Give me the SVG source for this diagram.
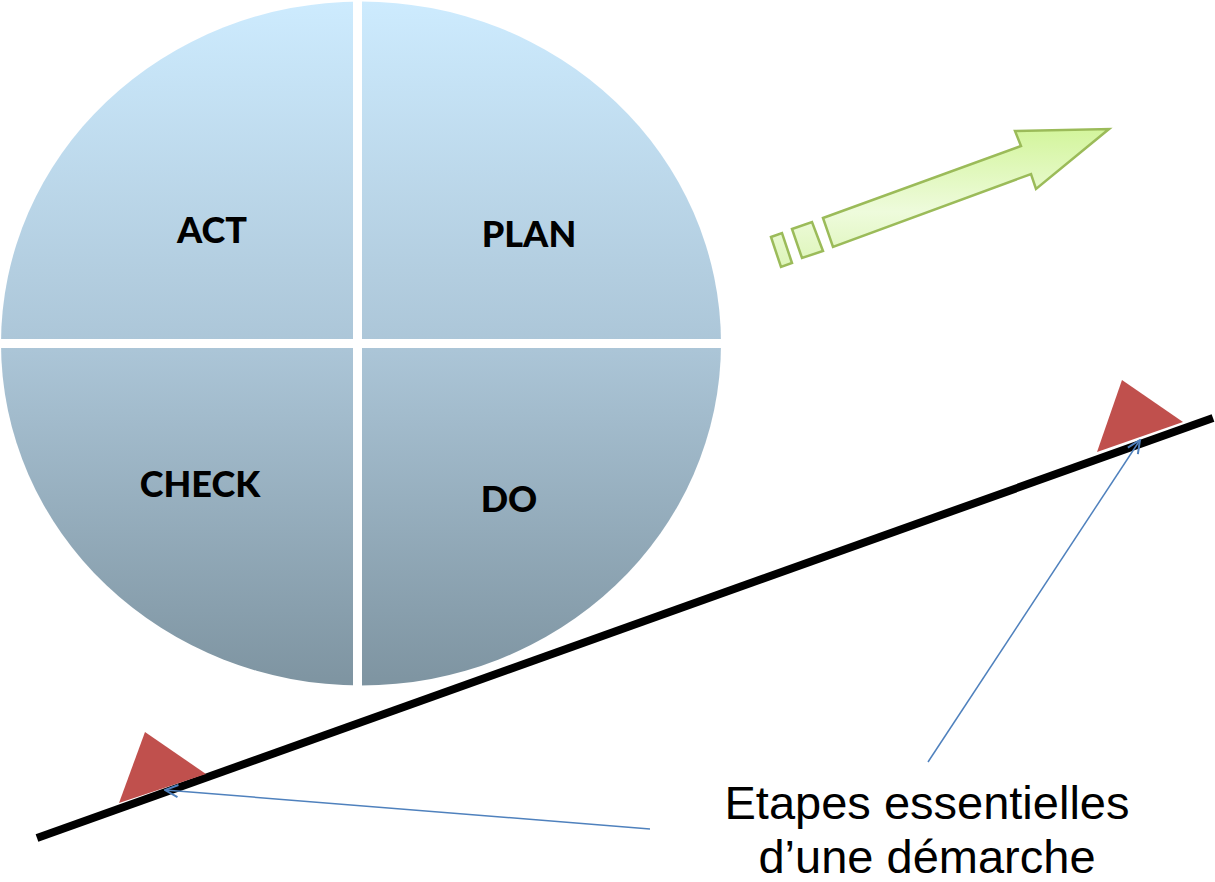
<svg xmlns="http://www.w3.org/2000/svg" width="1215" height="882" viewBox="0 0 1215 882">
  <style>
    .quad { fill: url(#pdcaGrad); }
    .qlabel { font-family: Lato, "Open Sans", sans-serif; font-weight: 900; font-size: 36px; fill: #000; text-anchor: middle; }
    .caption { font-family: "Liberation Sans", Arial, sans-serif; font-size: 47px; fill: #000; text-anchor: middle; }
    .marker-tri { fill: #C0504D; }
    .pointer { fill: none; stroke: #4F81BD; stroke-width: 1.5; marker-end: url(#openHead); }
    .green { fill: url(#greenGrad); stroke: #9BBB59; stroke-width: 2.5; stroke-linejoin: miter; }
  </style>
  <defs>
    <linearGradient id="pdcaGrad" gradientUnits="userSpaceOnUse" x1="0" y1="2" x2="0" y2="685">
      <stop offset="0" stop-color="#CDEBFE"/>
      <stop offset="0.5" stop-color="#ACC6D8"/>
      <stop offset="1" stop-color="#7E94A1"/>
    </linearGradient>
    <linearGradient id="greenGrad" gradientUnits="userSpaceOnUse" x1="0" y1="129" x2="0" y2="267">
      <stop offset="0" stop-color="#D3F59C"/>
      <stop offset="0.6" stop-color="#EEFBDC"/>
      <stop offset="1" stop-color="#DDF5B8"/>
    </linearGradient>
    <clipPath id="disc">
      <ellipse cx="361" cy="343.5" rx="360" ry="342"/>
    </clipPath>
    <marker id="openHead" viewBox="0 0 16 16" refX="15" refY="8" markerWidth="16" markerHeight="16" markerUnits="userSpaceOnUse" orient="auto">
      <path d="M2,2 L15,8 L2,14" fill="none" stroke="#4F81BD" stroke-width="2"/>
    </marker>
  </defs>

  <!-- PDCA wheel: four quadrants of one ellipse -->
  <g id="act">
    <rect class="quad" x="0" y="0" width="353" height="339" clip-path="url(#disc)"/>
    <text class="qlabel" x="212" y="243">ACT</text>
  </g>
  <g id="plan">
    <rect class="quad" x="362" y="0" width="360" height="339" clip-path="url(#disc)"/>
    <text class="qlabel" x="529" y="247">PLAN</text>
  </g>
  <g id="check">
    <rect class="quad" x="0" y="348" width="353" height="340" clip-path="url(#disc)"/>
    <text class="qlabel" x="200" y="497">CHECK</text>
  </g>
  <g id="do">
    <rect class="quad" x="362" y="348" width="360" height="340" clip-path="url(#disc)"/>
    <text class="qlabel" x="509" y="512">DO</text>
  </g>

  <!-- Dashed-tail progress arrow -->
  <g id="progress-arrow">
    <polygon class="green" points="771,237 782,233 792,263 781,267"/>
    <polygon class="green" points="792,229 812,222 823,251 802,258"/>
    <polygon class="green" points="823,218 1021,146 1015,131 1109,129 1036,189 1031,174 833,247"/>
  </g>

  <!-- Slope with its two stage markers -->
  <g id="slope">
    <line x1="37" y1="838" x2="1213" y2="418" stroke="#000" stroke-width="8"/>
  </g>
  <g id="stage-start">
    <polygon class="marker-tri" points="145,732 119,803 206,774"/>
  </g>
  <g id="stage-end">
    <polygon class="marker-tri" points="1122,380 1097,452 1183,422"/>
  </g>

  <!-- Caption -->
  <g id="caption">
    <text class="caption" x="927" y="819">Etapes essentielles</text>
    <text class="caption" x="927" y="873">d’une démarche</text>
  </g>

  <!-- Pointers from caption to markers -->
  <g id="connectors">
    <line class="pointer" x1="650" y1="829" x2="165" y2="790"/>
    <line class="pointer" x1="928" y1="762" x2="1140" y2="440"/>
  </g>
</svg>
